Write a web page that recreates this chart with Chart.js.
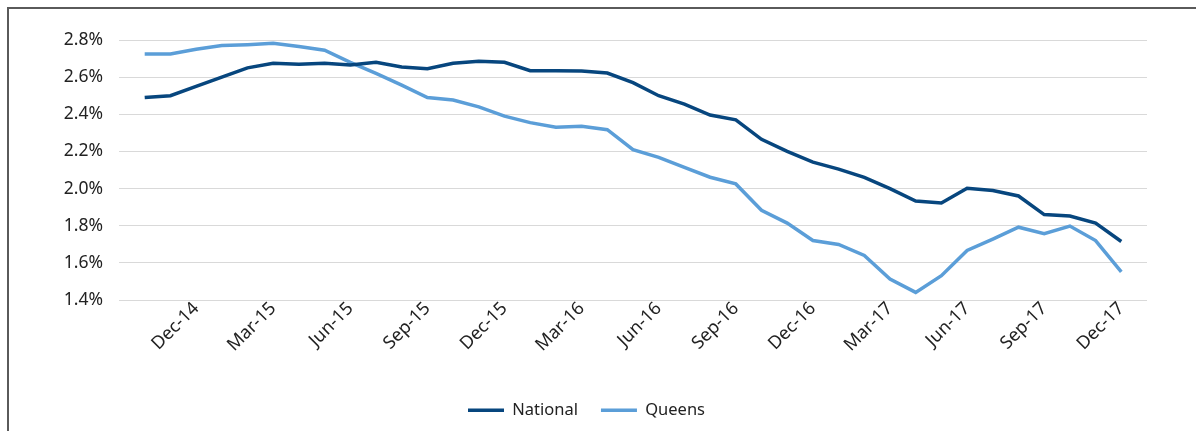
<!DOCTYPE html>
<html>
<head>
<meta charset="utf-8">
<script src="https://cdn.jsdelivr.net/npm/chart.js@4/dist/chart.umd.min.js"></script>
<style>
  html, body { margin: 0; padding: 0; background: #fff; }
  #wrap { position: relative; width: 1196px; height: 431px; overflow: hidden; }
  #frame { position: absolute; left: 7px; top: 7px; width: 1300px; height: 500px;
           border-left: 2px solid #5a5a5a; border-top: 2px solid #5a5a5a; }
  #rates { position: absolute; left: 0; top: 0; }
</style>
</head>
<body>
<div id="wrap">
  <div id="frame"></div>
  <canvas id="rates" width="1196" height="431"></canvas>
</div>
<script>
// monthly series, Oct-14 .. Dec-17
const months = [
  'Oct-14', 'Nov-14', 'Dec-14',
  'Jan-15', 'Feb-15', 'Mar-15', 'Apr-15', 'May-15', 'Jun-15',
  'Jul-15', 'Aug-15', 'Sep-15', 'Oct-15', 'Nov-15', 'Dec-15',
  'Jan-16', 'Feb-16', 'Mar-16', 'Apr-16', 'May-16', 'Jun-16',
  'Jul-16', 'Aug-16', 'Sep-16', 'Oct-16', 'Nov-16', 'Dec-16',
  'Jan-17', 'Feb-17', 'Mar-17', 'Apr-17', 'May-17', 'Jun-17',
  'Jul-17', 'Aug-17', 'Sep-17', 'Oct-17', 'Nov-17', 'Dec-17'
];

const national = [
  2.49, 2.50, 2.55,
  2.60, 2.65, 2.675, 2.67, 2.675, 2.665,
  2.68, 2.655, 2.645, 2.675, 2.685, 2.68,
  2.635, 2.635, 2.633, 2.622, 2.57, 2.50,
  2.455, 2.396, 2.37, 2.265, 2.20, 2.142,
  2.105, 2.06, 2.00, 1.933, 1.922, 2.002,
  1.99, 1.96, 1.86, 1.852, 1.814, 1.715
];

const queens = [
  2.725, 2.725, 2.75,
  2.77, 2.775, 2.782, 2.765, 2.745, 2.68,
  2.62, 2.557, 2.49, 2.477, 2.44, 2.39,
  2.355, 2.33, 2.335, 2.317, 2.21, 2.168,
  2.114, 2.061, 2.025, 1.883, 1.814, 1.72,
  1.699, 1.64, 1.513, 1.441, 1.531, 1.667,
  1.728, 1.792, 1.757, 1.798, 1.72, 1.551
];

const yTicks = [1.4, 1.6, 1.8, 2.0, 2.2, 2.4, 2.6, 2.8];

const FONT = "'Noto Sans', 'Open Sans', sans-serif";

function toPoints(values) {
  return values.map((v, i) => ({ x: i, y: v }));
}

// pin the legend box height so the plot keeps its place,
// and nudge it right a little after layout
const legendPlacement = {
  id: 'legendPlacement',
  afterInit(chart) {
    const legend = chart.legend;
    const fit = legend.fit;
    legend.fit = function() {
      fit.call(this);
      this.height = 52;
    };
  },
  afterLayout(chart) {
    chart.legend.left += 13;
    chart.legend.right += 13;
  }
};

const ctx = document.getElementById('rates').getContext('2d');

new Chart(ctx, {
  type: 'line',
  data: {
    datasets: [
      {
        label: 'National',
        data: toPoints(national),
        borderColor: '#07467e',
        backgroundColor: '#07467e',
        borderWidth: 3.5,
        pointRadius: 0,
        tension: 0
      },
      {
        label: 'Queens',
        data: toPoints(queens),
        borderColor: '#5b9ed8',
        backgroundColor: '#5b9ed8',
        borderWidth: 3.5,
        pointRadius: 0,
        tension: 0
      }
    ]
  },
  plugins: [legendPlacement],
  options: {
    responsive: false,
    animation: false,
    layout: {
      padding: { left: 0, right: 49, top: 40, bottom: 0 }
    },
    scales: {
      x: {
        type: 'linear',
        min: -1,
        max: months.length,
        grid: { display: false, drawTicks: false },
        border: { display: false },
        ticks: {
          stepSize: 1,
          autoSkip: false,
          minRotation: 45,
          maxRotation: 45,
          padding: -2,
          color: '#222',
          font: { family: FONT, size: 18 },
          // only quarter-end months get a label
          callback: function(value) {
            const m = months[value];
            if (m && /^(Dec|Mar|Jun|Sep)/.test(m)) return m;
            return null;
          }
        },
        afterFit: function(scale) { scale.height = 79; }
      },
      y: {
        min: 1.4,
        max: 2.8,
        afterBuildTicks: function(scale) {
          scale.ticks = yTicks.map(v => ({ value: v }));
        },
        grid: { color: '#d9d9d9', lineWidth: 1, drawTicks: false },
        border: { display: false },
        ticks: {
          padding: 16,
          color: '#222',
          font: { family: FONT, size: 17.5 },
          callback: function(value) { return value.toFixed(1) + '%'; }
        },
        afterFit: function(scale) { scale.width = 119; }
      }
    },
    plugins: {
      tooltip: { enabled: false },
      legend: {
        position: 'bottom',
        labels: {
          usePointStyle: true,
          pointStyle: 'line',
          pointStyleWidth: 36,
          padding: 23,
          color: '#222',
          font: { family: FONT, size: 16.5 }
        }
      }
    }
  }
});
</script>
</body>
</html>
